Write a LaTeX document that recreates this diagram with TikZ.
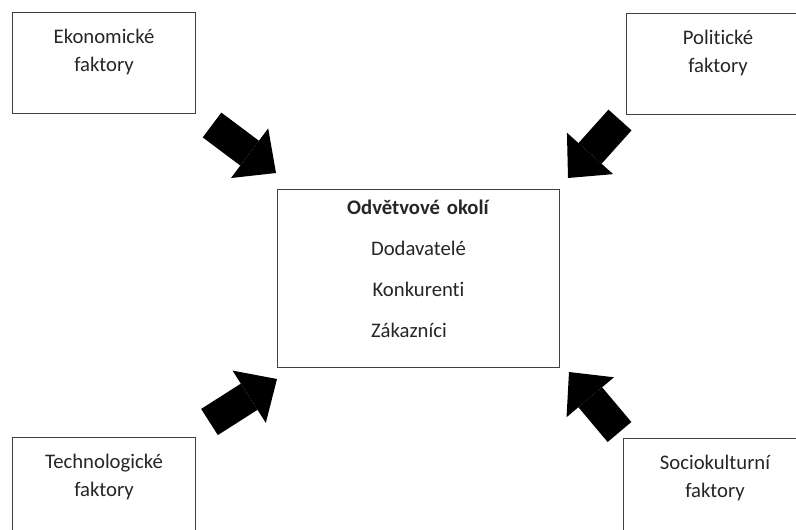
\documentclass[tikz,border=0pt]{standalone}
\usepackage{fontspec}
\setmainfont{Carlito}[Ligatures=NoCommon]
\usetikzlibrary{arrows.meta,calc}
\begin{document}
\begin{tikzpicture}[x=1pt, y=-1pt,
    factor/.style = {draw=black!75, line width=1pt, anchor=north west, inner sep=0pt, text width=183pt, align=center, text height=31pt, text depth=70pt, font=\fontsize{20.7}{28}\selectfont, text=black!85},
    okoli/.style = {draw=black!75, line width=1pt, anchor=north west, inner sep=0pt, text width=282pt, align=center, text height=25pt, text depth=153pt, font=\fontsize{20.7}{41}\selectfont, text=black!85},
    sipka/.style = {line width=31pt, -{Triangle[width=62pt, length=33pt, line width=0pt]}}]

    \useasboundingbox (0,0) rectangle (796,530);
    \fill[white] (0,0) rectangle (796,530);

    \node[factor] (eko) at (12,12) {Ekonomické\\faktory};
    \node[factor] (pol) at (626,13) {Politické\\faktory};
    \node[factor] (tech) at (12,437) {Technologické\\faktory};
    \node[factor] (soc) at (623,438) {Sociokulturní\\faktory};
    \node[okoli] (odv) at (277,189) {\textbf{Odvětvové okolí}\\Dodavatelé\\Konkurenti\\\leavevmode\rlap{Zákazníci}\phantom{Dodavatelé}};

    \draw[sipka] ($(eko.south east)+(16,11)$) -- ($(odv.north west)+(-1,-16)$);
    \draw[sipka] ($(pol.south west)+(-6,5)$) -- ($(odv.north east)+(8,-11)$);
    \draw[sipka] ($(tech.north east)+(13.5,-15)$) -- ($(odv.south west)+(0,11)$);
    \draw[sipka] ($(soc.north west)+(-3.5,-6)$) -- ($(odv.south east)+(9,4)$);

\end{tikzpicture}
\end{document}
